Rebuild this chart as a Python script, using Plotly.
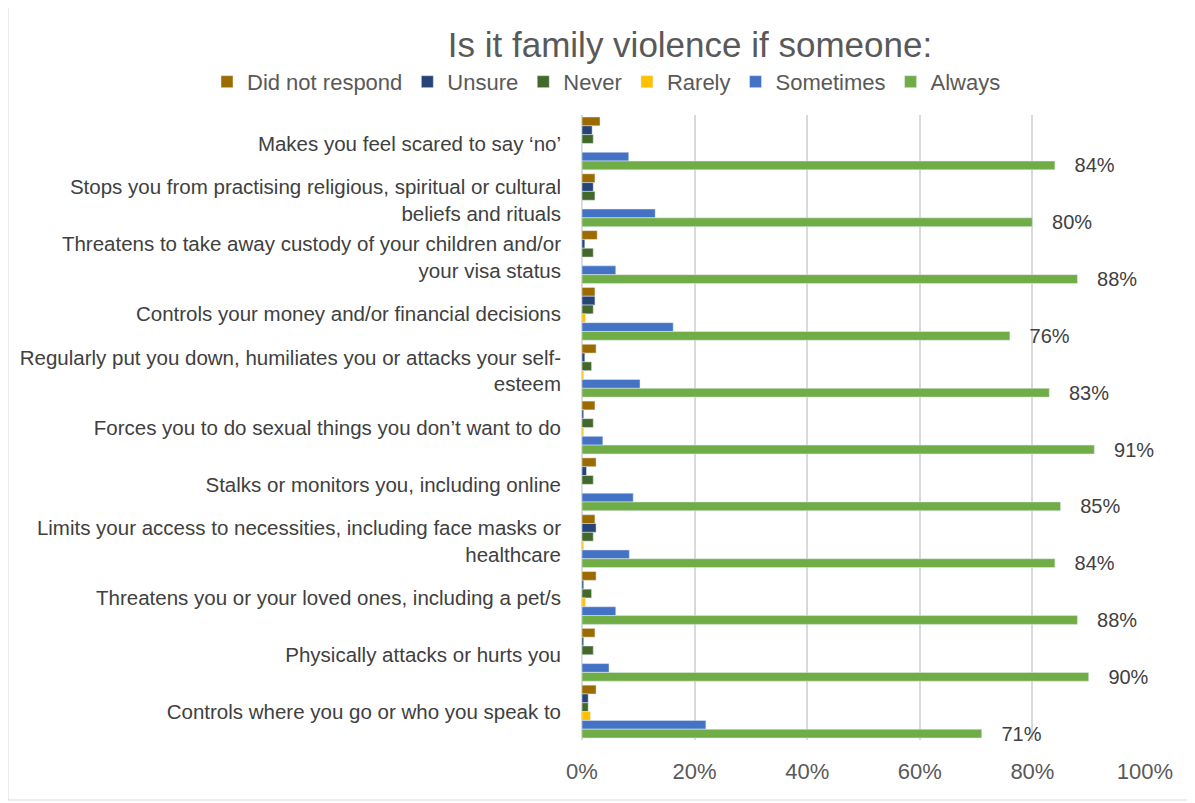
import plotly.graph_objects as go

categories = [
    "Makes you feel scared to say ‘no’",
    "Stops you from practising religious, spiritual or cultural<br>beliefs and rituals",
    "Threatens to take away custody of your children and/or<br>your visa status",
    "Controls your money and/or financial decisions",
    "Regularly put you down, humiliates you or attacks your self-<br>esteem",
    "Forces you to do sexual things you don’t want to do",
    "Stalks or monitors you, including online",
    "Limits your access to necessities, including face masks or<br>healthcare",
    "Threatens you or your loved ones, including a pet/s",
    "Physically attacks or hurts you",
    "Controls where you go or who you speak to",
]

did_not_respond = [3.2, 2.3, 2.7, 2.3, 2.5, 2.3, 2.5, 2.3, 2.5, 2.3, 2.5]
unsure = [1.8, 2.0, 0.5, 2.3, 0.5, 0.3, 0.8, 2.5, 0.3, 0.3, 1.1]
never = [2.0, 2.3, 2.0, 2.0, 1.7, 2.0, 2.0, 2.0, 1.7, 2.0, 1.1]
rarely = [0.0, 0.0, 0.0, 0.6, 0.3, 0.3, 0.0, 0.3, 0.6, 0.0, 1.5]
sometimes = [8.3, 13.0, 6.0, 16.2, 10.3, 3.7, 9.1, 8.4, 6.0, 4.8, 22.0]
always = [84, 80, 88, 76, 83, 91, 85, 84, 88, 90, 71]

series = [
    ("Did not respond", did_not_respond, "#9C6B00"),
    ("Unsure", unsure, "#264478"),
    ("Never", never, "#43682B"),
    ("Rarely", rarely, "#FFC000"),
    ("Sometimes", sometimes, "#4472C4"),
    ("Always", always, "#70AD47"),
]

fig = go.Figure()
for name, vals, color in series:
    kw = {}
    if name == "Always":
        kw = dict(text=[f"   {v}%" for v in vals], textposition="outside",
                  outsidetextfont=dict(size=20, color="#404040"),
                  constraintext="none", cliponaxis=False)
    fig.add_trace(go.Bar(name=name, y=categories, x=vals, orientation="h",
                         marker=dict(color=color), **kw))

W, H = 1187, 795
L, T = 574, 107
PW, PH = 563, 625

fig.update_layout(
    barmode="group",
    bargap=0.07,
    bargroupgap=0.0,
    width=W, height=H,
    paper_bgcolor="white", plot_bgcolor="white",
    margin=dict(l=L, r=W - L - PW, t=T, b=H - T - PH, autoexpand=False),
    font=dict(family="Liberation Sans, Arial, sans-serif", color="#404040"),
    title=dict(text="Is it family violence if someone:", x=682 / W, xanchor="center",
               y=1 - 37 / H, yanchor="middle",
               font=dict(size=35, color="#595959")),
    legend=dict(orientation="h", x=(199 - L) / PW, xanchor="left",
                y=1.053, yanchor="middle",
                font=dict(size=22, color="#595959"), itemwidth=30,
                traceorder="normal"),
    showlegend=True,
)
fig.update_xaxes(range=[0, 100], dtick=20, ticksuffix="%", showgrid=True,
                 gridcolor="#D9D9D9", gridwidth=2, zeroline=True,
                 zerolinecolor="#D9D9D9", zerolinewidth=2, automargin=False,
                 tickfont=dict(size=22, color="#595959"), ticks="",
                 ticklabelstandoff=16)
fig.update_yaxes(autorange="reversed", tickfont=dict(size=20.5, color="#404040"),
                 ticks="", ticklabelstandoff=20, showline=False, automargin=False)

fig.add_shape(type="rect", xref="paper", yref="paper",
              x0=(0 - L) / PW, x1=(1182 - L) / PW,
              y0=(T + PH - 792) / PH, y1=(T + PH + 4) / PH,
              line=dict(color="#D9D9D9", width=1), layer="below")

fig.write_html("out.html")
